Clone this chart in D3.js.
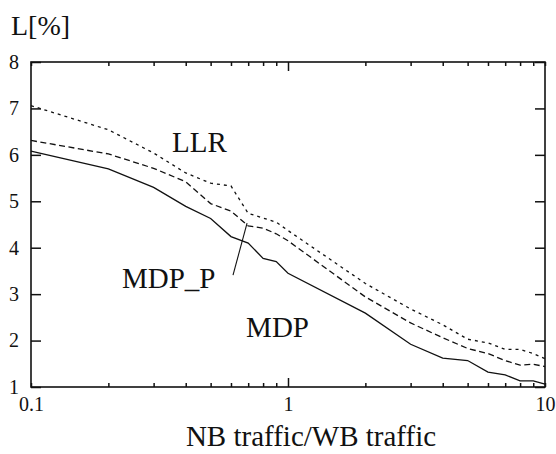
<!DOCTYPE html>
<html>
<head>
<meta charset="utf-8">
<script src="https://cdn.jsdelivr.net/npm/d3@7"></script>
<style>
  body { margin: 0; background: #fff; }
  svg text { font-family: "Liberation Serif", "Times New Roman", Times, "DejaVu Serif", serif !important; }
</style>
</head>
<body>
<svg id="chart" width="556" height="454"></svg>
<script>
// traffic ratio samples (x axis, log)
const ratios = [0.1, 0.2, 0.3, 0.4, 0.5, 0.6, 0.7, 0.8, 0.9, 1, 2, 3, 4, 5, 6, 7, 8, 9, 10];

// loss L[%] per scheme
const mdp   = [6.08, 5.70, 5.30, 4.89, 4.63, 4.24, 4.10, 3.77, 3.70, 3.45, 2.59, 1.92, 1.62, 1.57, 1.32, 1.26, 1.13, 1.13, 1.06];
const mdpP  = [6.31, 6.02, 5.71, 5.42, 4.95, 4.79, 4.47, 4.42, 4.30, 4.15, 2.94, 2.38, 2.06, 1.83, 1.72, 1.57, 1.47, 1.49, 1.44];
const llr   = [7.06, 6.54, 6.04, 5.61, 5.39, 5.33, 4.74, 4.64, 4.55, 4.37, 3.23, 2.68, 2.34, 2.03, 1.95, 1.81, 1.81, 1.72, 1.61];

const yTicks = [1, 2, 3, 4, 5, 6, 7, 8];
const xLabels = [0.1, 1, 10];

// curve labels, anchored in data units (x ratio, y loss)
const curveLabels = [
  { text: "LLR", x: 0.354, y: 6.06 },
  { text: "MDP_P", x: 0.226, y: 3.13 },
  { text: "MDP", x: 0.687, y: 2.07 }
];
const pointer = [[0.611, 3.41], [0.693, 4.53]];

const W = 556, H = 454;
const margin = { top: 62, right: 11, bottom: 67, left: 31 };
const w = W - margin.left - margin.right;
const h = H - margin.top - margin.bottom;

const svg = d3.select("#chart");
const g = svg.append("g").attr("transform", `translate(${margin.left},${margin.top})`);

const x = d3.scaleLog().domain([0.1, 10]).range([0, w]);
const y = d3.scaleLinear().domain([1, 8]).range([h, 0]);

const fmt = (d) => (xLabels.includes(d) ? String(d) : "");

// bottom axis
const xb = g.append("g")
  .attr("transform", `translate(0,${h})`)
  .call(d3.axisBottom(x).tickValues(ratios).tickFormat(fmt).tickSizeInner(-4).tickSizeOuter(0).tickPadding(10));
xb.selectAll(".tick line").attr("y2", (d) => (d === 1 ? -9 : -4));

// top axis
const xt = g.append("g")
  .call(d3.axisTop(x).tickValues(ratios).tickFormat("").tickSizeInner(-4).tickSizeOuter(0));
xt.selectAll(".tick line").attr("y2", (d) => (d === 1 ? 9 : 4));

// left / right axes
g.append("g")
  .call(d3.axisLeft(y).tickValues(yTicks).tickFormat(d3.format("d")).tickSizeInner(-10).tickSizeOuter(0).tickPadding(12));
g.append("g")
  .attr("transform", `translate(${w},0)`)
  .call(d3.axisRight(y).tickValues(yTicks).tickFormat("").tickSizeInner(-10).tickSizeOuter(0));

g.selectAll(".domain").remove();
g.selectAll(".tick line").attr("stroke", "#111").attr("stroke-width", 1.5);
g.selectAll(".tick text").attr("font-size", 20).attr("fill", "#111");

// frame
g.append("rect")
  .attr("width", w)
  .attr("height", h)
  .attr("fill", "none")
  .attr("stroke", "#111")
  .attr("stroke-width", 1.6);

// curves
const line = d3.line()
  .x((d) => x(d[0]))
  .y((d) => y(d[1]));

const series = [
  { vals: llr, dash: "3,4" },
  { vals: mdpP, dash: "6,3.5" },
  { vals: mdp, dash: null }
];

series.forEach((s) => {
  g.append("path")
    .datum(ratios.map((r, i) => [r, s.vals[i]]))
    .attr("d", line)
    .attr("fill", "none")
    .attr("stroke", "#111")
    .attr("stroke-width", 1.3)
    .attr("stroke-dasharray", s.dash);
});

// pointer line for MDP_P
g.append("path")
  .datum(pointer)
  .attr("d", line)
  .attr("fill", "none")
  .attr("stroke", "#111")
  .attr("stroke-width", 1.1);

// curve labels
g.selectAll(".clabel")
  .data(curveLabels)
  .enter()
  .append("text")
  .attr("class", "clabel")
  .attr("x", (d) => x(d.x))
  .attr("y", (d) => y(d.y))
  .attr("font-size", 29)
  .attr("fill", "#111")
  .text((d) => d.text);

// axis titles
svg.append("text")
  .attr("x", 11)
  .attr("y", 35)
  .attr("font-size", 28)
  .attr("fill", "#111")
  .text("L[%]");

svg.append("text")
  .attr("x", 311)
  .attr("y", 446)
  .attr("text-anchor", "middle")
  .attr("font-size", 29)
  .attr("fill", "#111")
  .text("NB traffic/WB traffic");
</script>
</body>
</html>
